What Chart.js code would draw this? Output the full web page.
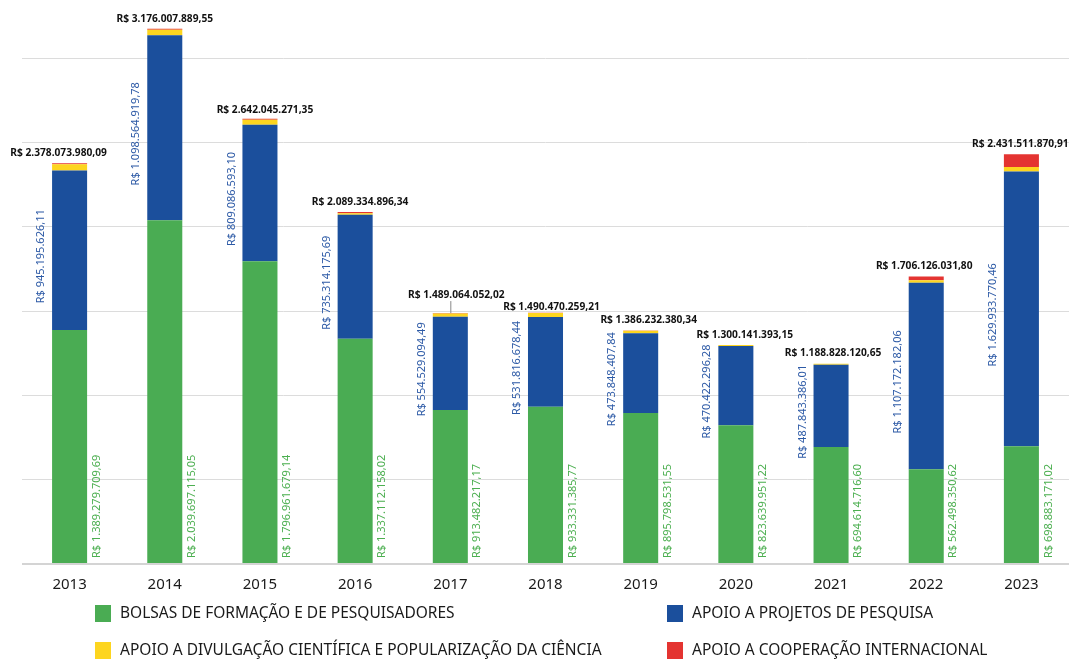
<!DOCTYPE html>
<html>
<head>
<meta charset="utf-8">
<script src="https://cdn.jsdelivr.net/npm/chart.js@4"></script>
<style>
  body { margin: 0; background: #fff; }
  #wrap { width: 1069px; height: 661px; position: relative; }
</style>
</head>
<body>
<div id="wrap"><canvas id="myChart"></canvas></div>
<script>
// valores (R$)
const years = ['2013', '2014', '2015', '2016', '2017', '2018', '2019', '2020', '2021', '2022', '2023'];
const bolsas = [1389279709.69, 2039697115.05, 1796961679.14, 1337112158.02, 913482217.17, 933331385.77, 895798531.55, 823639951.22, 694614716.60, 562498350.62, 698883171.02];
const projetos = [945195626.11, 1098564919.78, 809086593.10, 735314175.69, 554529094.49, 531816678.44, 473848407.84, 470422296.28, 487843386.01, 1107172182.06, 1629933770.46];
// estimados pela altura das faixas
const divulgacao = [38000000, 32000000, 30000000, 9000000, 19000000, 24000000, 15000000, 5000000, 5500000, 14500000, 26700000];
const cooperacao = [5600000, 5700000, 6000000, 7900000, 2000000, 1300000, 1500000, 1000000, 900000, 22000000, 76000000];
const totais = [2378073980.09, 3176007889.55, 2642045271.35, 2089334896.34, 1489064052.02, 1490470259.21, 1386232380.34, 1300141393.15, 1188828120.65, 1706126031.80, 2431511870.91];

const seriesNames = [
  'BOLSAS DE FORMAÇÃO E DE PESQUISADORES',
  'APOIO A PROJETOS DE PESQUISA',
  'APOIO A DIVULGAÇÃO CIENTÍFICA E POPULARIZAÇÃO DA CIÊNCIA',
  'APOIO A COOPERAÇÃO INTERNACIONAL'
];
const colors = ['#4aac53', '#1b4f9c', '#fdd51f', '#e43431'];

// ajuste manual dos rótulos de total (x, y)
const totalNudge = [[-11, 0], [0, 0], [5, 1], [5, 0], [6, -8], [6, 4], [8, 0], [9, 0], [2, -1], [-2, 0], [-1, 0]];

function brl(v) {
  const parts = v.toFixed(2).split('.');
  const int = parts[0].replace(/\B(?=(\d{3})+(?!\d))/g, '.');
  return 'R$ ' + int + ',' + parts[1];
}

const labelPlugin = {
  id: 'labelPlugin',
  afterDatasetsDraw(chart) {
    const ctx = chart.ctx;
    const greenMeta = chart.getDatasetMeta(0);
    const blueMeta = chart.getDatasetMeta(1);
    const topMeta = chart.getDatasetMeta(3);
    ctx.save();
    years.forEach((y, i) => {
      const g = greenMeta.data[i];
      const b = blueMeta.data[i];
      const half = g.width / 2;

      // verde: à direita da barra, a partir da base
      ctx.save();
      ctx.translate(g.x + half + 9.5, 558);
      ctx.rotate(-Math.PI / 2);
      ctx.font = '11px "Noto Sans"';
      ctx.fillStyle = '#4caf50';
      ctx.textAlign = 'left';
      ctx.textBaseline = 'middle';
      ctx.fillText(brl(bolsas[i]), 0, 0);
      ctx.restore();

      // azul: à esquerda da barra, no meio da faixa
      ctx.save();
      ctx.translate(b.x - half - 11, (b.y + b.base) / 2 + 6);
      ctx.rotate(-Math.PI / 2);
      ctx.font = '11px "Noto Sans"';
      ctx.fillStyle = '#2d5aa6';
      ctx.textAlign = 'center';
      ctx.textBaseline = 'middle';
      ctx.fillText(brl(projetos[i]), 0, 0);
      ctx.restore();

      // total
      const t = topMeta.data[i];
      const nx = totalNudge[i][0], ny = totalNudge[i][1];
      const ly = t.y - 10 + ny;
      ctx.font = 'bold 10.2px "Noto Sans"';
      ctx.fillStyle = '#111';
      ctx.textAlign = 'center';
      ctx.textBaseline = 'middle';
      ctx.fillText(brl(totais[i]), t.x + nx, ly);
      if (ny < -5) {
        ctx.strokeStyle = '#888';
        ctx.lineWidth = 1;
        ctx.beginPath();
        ctx.moveTo(t.x + 0.5, ly + 6);
        ctx.lineTo(t.x + 0.5, t.y);
        ctx.stroke();
      }
    });
    ctx.restore();
  },
  afterDraw(chart) {
    const ctx = chart.ctx;
    const spots = [[95, 605], [667, 605], [95, 642], [667, 642]];
    ctx.save();
    ctx.font = '15.5px "Noto Sans"';
    ctx.textBaseline = 'middle';
    ctx.textAlign = 'left';
    spots.forEach((p, k) => {
      ctx.fillStyle = colors[k];
      ctx.fillRect(p[0], p[1], 16, 17);
      ctx.fillStyle = '#1a1a1a';
      ctx.fillText(seriesNames[k], p[0] + 25, p[1] + 9);
    });
    ctx.restore();
  }
};

const ctx = document.getElementById('myChart');

new Chart(ctx, {
  type: 'bar',
  data: {
    labels: years,
    datasets: [
      { label: seriesNames[0], data: bolsas, backgroundColor: colors[0] },
      { label: seriesNames[1], data: projetos, backgroundColor: colors[1] },
      { label: seriesNames[2], data: divulgacao, backgroundColor: colors[2] },
      { label: seriesNames[3], data: cooperacao, backgroundColor: colors[3] }
    ]
  },
  options: {
    responsive: true,
    maintainAspectRatio: false,
    animation: false,
    layout: { padding: 0 },
    datasets: {
      bar: { categoryPercentage: 1, barPercentage: 0.368, borderWidth: 0 }
    },
    plugins: {
      legend: { display: false },
      tooltip: { enabled: false }
    },
    scales: {
      x: {
        stacked: true,
        grid: { display: false },
        border: { display: false },
        ticks: { color: '#1a1a1a', font: { family: 'Noto Sans', size: 15 }, padding: 4 },
        afterFit(scale) { scale.height = 97; }
      },
      y: {
        stacked: true,
        min: 0,
        max: 3347000000,
        afterBuildTicks(scale) {
          const ticks = [];
          for (let v = 0; v <= 3000000000; v += 500000000) ticks.push({ value: v });
          scale.ticks = ticks;
        },
        ticks: { display: false },
        border: { display: false },
        grid: {
          color: c => c.tick.value === 0 ? '#d4d4d4' : '#dcdcdc',
          lineWidth: c => c.tick.value === 0 ? 2 : 1,
          drawTicks: false
        },
        afterFit(scale) { scale.width = 22; }
      }
    }
  },
  plugins: [labelPlugin]
});
</script>
</body>
</html>
